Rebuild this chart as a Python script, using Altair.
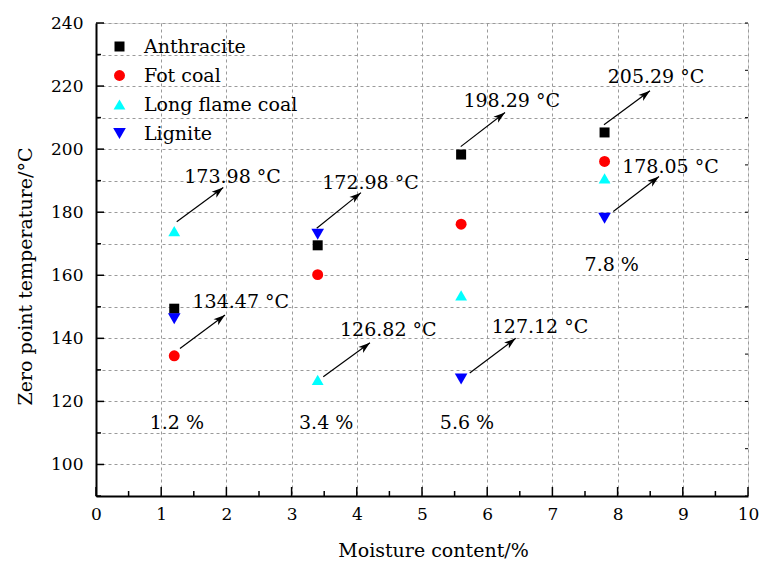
import altair as alt
import pandas as pd

# ---------------- data ----------------
series = ["Anthracite", "Fot coal", "Long flame coal", "Lignite"]
moisture = [1.2, 3.4, 5.6, 7.8]
anthracite = [149.4, 169.5, 198.29, 205.29]
fot_coal = [134.47, 160.2, 176.2, 196.1]
long_flame = [173.98, 126.82, 153.6, 190.7]
lignite = [146.2, 172.98, 127.12, 178.05]

colors = ["#000000", "#ff0000", "#00ffff", "#0000ff"]
shapes = ["square", "circle", "triangle-up", "triangle-down"]
sizes = [100, 160, 200, 200]

# annotation arrows: start (x, y) -> tip (x2, y2), label position (tx, ty)
ann_text = ["173.98 °C", "134.47 °C", "172.98 °C", "126.82 °C",
            "198.29 °C", "127.12 °C", "205.29 °C", "178.05 °C"]
ann_x0 = [1.238, 1.288, 3.385, 3.486, 5.594, 5.732, 7.791, 7.934]
ann_y0 = [177.0, 136.8, 174.9, 127.8, 200.8, 129.0, 207.7, 180.2]
ann_x1 = [1.952, 1.979, 4.064, 4.202, 6.273, 6.437, 8.497, 8.635]
ann_y1 = [187.8, 147.4, 186.2, 138.6, 211.6, 140.0, 218.5, 191.3]
ann_tx = [2.094, 2.221, 4.210, 4.483, 6.376, 6.810, 8.589, 8.811]
ann_ty = [191.3, 151.6, 189.4, 142.6, 215.4, 143.7, 223.0, 194.4]

pct_text = ["1.2 %", "3.4 %", "5.6 %", "7.8 %"]
pct_x = [1.24, 3.53, 5.69, 7.91]
pct_y = [113.0, 113.0, 113.0, 163.3]

x_grid = [i * 0.5 for i in range(21)]
y_grid = [90 + 10 * i for i in range(16)]
x_major = [float(i) for i in range(11)]
x_minor = [i + 0.5 for i in range(10)]
y_major = [100 + 20 * i for i in range(8)]
y_minor = [90 + 20 * i for i in range(8)]
y_right = [90 + 15 * i for i in range(11)]

# ---------------- tables ----------------
pts = pd.DataFrame(
    [{"x": m, "y": v, "series": s}
     for s, vals in zip(series, [anthracite, fot_coal, long_flame, lignite])
     for m, v in zip(moisture, vals)]
)
ann = pd.DataFrame({"x": ann_x0, "y": ann_y0, "x2": ann_x1, "y2": ann_y1,
                    "tx": ann_tx, "ty": ann_ty, "label": ann_text})
pct = pd.DataFrame({"x": pct_x, "y": pct_y, "label": pct_text})

W, H = 652, 473
FONT = "DejaVu Serif"
FS_TEXT = 19
FS_TICK = 17

xs = alt.Scale(domain=[0, 10], nice=False, zero=False)
ys = alt.Scale(domain=[90, 240], nice=False, zero=False)

x_axis = alt.Axis(
    values=x_grid, format="d",
    labelExpr="datum.value % 1 === 0 ? datum.label : ''",
    title="Moisture content/%", grid=True, ticks=False,
    labelFontSize=FS_TICK, labelFont=FONT, labelColor="black", labelPadding=10,
    labelFlush=False, labelOverlap=False,
    titleFontSize=FS_TEXT, titleFont=FONT, titleFontWeight="normal", titleColor="black",
    titleX=337, titleY=54, titleBaseline="middle",
    domainColor="black", domainWidth=2,
    gridColor="#9a9a9a", gridDash=[3, 3], gridWidth=1,
)
y_axis = alt.Axis(
    values=y_grid, format="d",
    labelExpr="datum.value % 20 === 0 ? datum.label : ''",
    title="Zero point temperature/°C", grid=True, ticks=False,
    labelFontSize=FS_TICK, labelFont=FONT, labelColor="black", labelPadding=13,
    labelFlush=False, labelOverlap=False,
    titleFontSize=FS_TEXT, titleFont=FONT, titleFontWeight="normal", titleColor="black",
    titleX=-71, titleY=253, titleBaseline="middle", titleAlign="center",
    domainColor="black", domainWidth=2,
    gridColor="#9a9a9a", gridDash=[3, 3], gridWidth=1,
)

X = alt.X("x:Q", scale=xs, axis=x_axis)
Y = alt.Y("y:Q", scale=ys, axis=y_axis)

legend = alt.Legend(
    title=None, orient="none", legendX=14, legendY=14, padding=0,
    symbolSize=150, symbolStrokeWidth=0, symbolOpacity=1,
    labelFontSize=FS_TEXT, labelFont=FONT, labelColor="black",
    rowPadding=9, labelOffset=15,
)

points = alt.Chart(pts).mark_point(filled=True, opacity=1, strokeWidth=0).encode(
    x=X, y=Y,
    color=alt.Color("series:N", scale=alt.Scale(domain=series, range=colors), legend=legend),
    shape=alt.Shape("series:N", scale=alt.Scale(domain=series, range=shapes), legend=legend),
    size=alt.Size("series:N", scale=alt.Scale(domain=series, range=sizes), legend=None),
)

# inward axis ticks
def tick_df(vals):
    return pd.DataFrame({"x": vals, "y": vals})

bt_major = alt.Chart(tick_df(x_major)).mark_rule(color="black", strokeWidth=1.5).encode(
    x=X, y=alt.value(H), y2=alt.value(H - 9))
bt_minor = alt.Chart(tick_df(x_minor)).mark_rule(color="black", strokeWidth=1.5).encode(
    x=X, y=alt.value(H), y2=alt.value(H - 5))
lt_major = alt.Chart(tick_df(y_major)).mark_rule(color="black", strokeWidth=1.5).encode(
    y=Y, x=alt.value(0), x2=alt.value(8))
lt_minor = alt.Chart(tick_df(y_minor)).mark_rule(color="black", strokeWidth=1.5).encode(
    y=Y, x=alt.value(0), x2=alt.value(5))
rt = alt.Chart(tick_df(y_right)).mark_rule(color="black", strokeWidth=1).encode(
    y=Y, x=alt.value(W), x2=alt.value(W - 3))

arrows = alt.Chart(ann).mark_rule(color="black", strokeWidth=1.2).encode(
    x=X, y=Y, x2="x2:Q", y2="y2:Q")
heads = alt.Chart(ann).mark_point(
    shape="M0,0L0.55,1.7L0,1.25L-0.55,1.7Z", filled=True, color="black",
    opacity=1, size=190, angle=52, strokeWidth=0,
).encode(x=alt.X("x2:Q", scale=xs, axis=x_axis), y=alt.Y("y2:Q", scale=ys, axis=y_axis))
ann_labels = alt.Chart(ann).mark_text(
    font=FONT, fontSize=FS_TEXT, color="black", align="center", baseline="middle"
).encode(x=alt.X("tx:Q", scale=xs, axis=x_axis), y=alt.Y("ty:Q", scale=ys, axis=y_axis),
         text="label:N")
pct_labels = alt.Chart(pct).mark_text(
    font=FONT, fontSize=FS_TEXT, color="black", align="center", baseline="middle"
).encode(x=X, y=Y, text="label:N")

chart = alt.layer(
    bt_major, bt_minor, lt_major, lt_minor, rt,
    arrows, heads, ann_labels, pct_labels, points,
).properties(
    width=W, height=H,
    padding={"left": 96, "top": 23, "right": 12, "bottom": 66},
    autosize=alt.AutoSizeParams(type="none"),
).configure_view(
    stroke="black", strokeWidth=1.5
).configure(background="white", font=FONT)

chart.save("out.html", embed_options={"renderer": "svg", "actions": False})
